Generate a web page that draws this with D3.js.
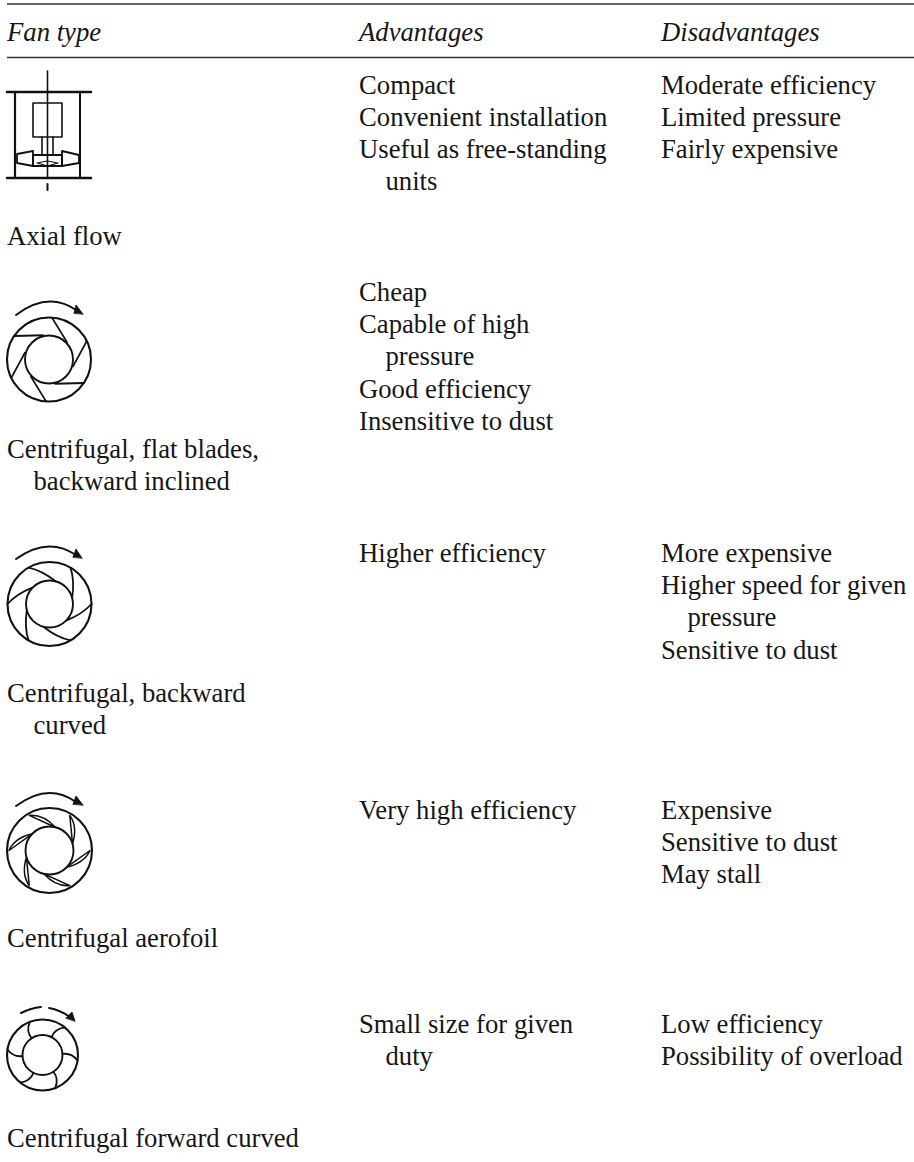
<!DOCTYPE html>
<html><head><meta charset="utf-8">
<script src="https://cdn.jsdelivr.net/npm/d3@7"></script>
<style>html,body{margin:0;padding:0;background:#fff}svg{display:block}</style>
</head><body><div id="c"></div>
<script>
const headers = ["Fan type", "Advantages", "Disadvantages"];
const fanTypes = ["Axial flow", "Centrifugal, flat blades,", "Centrifugal, backward", "Centrifugal aerofoil", "Centrifugal forward curved"];
const fanTypeCont = ["", "backward inclined", "curved", "", ""];
const advantages = [
  ["Compact", "Convenient installation", "Useful as free-standing", "  units"],
  ["Cheap", "Capable of high", "  pressure", "Good efficiency", "Insensitive to dust"],
  ["Higher efficiency"],
  ["Very high efficiency"],
  ["Small size for given", "  duty"]
];
const disadvantages = [
  ["Moderate efficiency", "Limited pressure", "Fairly expensive"],
  [],
  ["More expensive", "Higher speed for given", "  pressure", "Sensitive to dust"],
  ["Expensive", "Sensitive to dust", "May stall"],
  ["Low efficiency", "Possibility of overload"]
];

const W = 914, H = 1162;
const svg = d3.select("#c").append("svg").attr("width", W).attr("height", H);
svg.append("rect").attr("width", W).attr("height", H).attr("fill", "#fff");

const ink = "#161616";
const colX = d3.scaleOrdinal().domain(headers).range([7, 359, 661]);
const rowTop = d3.scaleOrdinal().domain(fanTypes).range([93.5, 301, 562, 819, 1032.5]);
const labelY = d3.scaleOrdinal().domain(fanTypes).range([244.5, 457.5, 701.5, 947, 1146.5]);
const lineY = d3.scaleLinear().domain([0, 1]).range([0, 32.2]);
const font = '"Liberation Serif","Times New Roman",serif';
const FS = 26.7;

function put(x, y, s, italic) {
  const indent = s.startsWith("  ");
  svg.append("text").attr("x", x + (indent ? 26.5 : 0)).attr("y", y)
    .attr("font-family", font).attr("font-size", FS)
    .attr("font-style", italic ? "italic" : "normal")
    .attr("fill", ink).text(s.trim());
}

[4, 57.5].forEach(y => svg.append("line").attr("x1", 7).attr("x2", 914)
  .attr("y1", y).attr("y2", y).attr("stroke", "#333").attr("stroke-width", 1.4));

headers.forEach(h => put(colX(h), 41, h, true));
fanTypes.forEach((f, i) => {
  put(colX(headers[0]), labelY(f), f);
  if (fanTypeCont[i]) put(colX(headers[0]), labelY(f) + lineY(1), "  " + fanTypeCont[i]);
  advantages[i].forEach((s, k) => put(colX(headers[1]), rowTop(f) + lineY(k), s));
  disadvantages[i].forEach((s, k) => put(colX(headers[2]), rowTop(f) + lineY(k), s));
});

// ---- fan icons ----
const icon = svg.append("g").attr("fill", "none").attr("stroke", "#111")
  .attr("stroke-linecap", "round").attr("stroke-linejoin", "round");

function seg(p, sw) {
  icon.append("path").attr("d", d3.line()(p)).attr("stroke-width", sw);
}
// axial
seg([[7, 92], [91, 92]], 2.6);
seg([[7, 178], [91, 178]], 2.6);
seg([[15, 92], [15, 178]], 2.2);
seg([[80, 92], [80, 178]], 2);
seg([[47.5, 71], [47.5, 178]], 1.6);
seg([[47.5, 184], [47.5, 190]], 2);
seg([[33, 103], [62, 103], [62, 137], [33, 137], [33, 103]], 1.6);
seg([[42, 137], [42, 155]], 1.6);
seg([[53, 137], [53, 155]], 1.6);
seg([[17, 154], [33, 151], [33, 166], [17, 163], [17, 154]], 1.8);
seg([[62, 151], [79, 155], [79, 163], [62, 166], [62, 151]], 1.8);
seg([[33, 155], [62, 155], [62, 166], [33, 166], [33, 155]], 2);
seg([[37, 163], [47.5, 161], [58, 163], [47.5, 166], [37, 163]], 1.2);

const rad = d => d * Math.PI / 180;
const pol = (c, r, a) => [c[0] + r * Math.cos(rad(a)), c[1] + r * Math.sin(rad(a))];

function arrow(pts) {
  const [a, m, b] = pts;
  icon.append("path").attr("stroke-width", 2)
    .attr("d", `M${a}Q${m} ${b}`);
}
function head(tip, l1, l2) {
  icon.append("path").attr("d", d3.line()([tip, l1, l2]) + "Z")
    .attr("fill", "#111").attr("stroke-width", 0.8);
}

function wheel(c, R, r, kind, start) {
  icon.append("circle").attr("cx", c[0]).attr("cy", c[1]).attr("r", R)
    .attr("stroke-width", 2.1);
  icon.append("circle").attr("cx", c[0]).attr("cy", c[1]).attr("r", r).attr("stroke-width", 1.9);
  d3.range(6).forEach(i => {
    const a = start + i * 60;
    const o = pol(c, R, a);
    if (kind === "flat") {
      seg([o, pol(c, r + 1, a + 42)], 1.8);
    } else if (kind === "backward") {
      const q = pol(c, r + 11, a + 17), e = pol(c, r, a + 45);
      icon.append("path").attr("stroke-width", 1.8).attr("d", `M${o}Q${q} ${e}`);
    } else if (kind === "aerofoil") {
      const s = pol(c, R - 2, a), e = pol(c, r, a + 44);
      const q1 = pol(c, r + 13, a + 20), q2 = pol(c, r + 8, a + 12);
      icon.append("path").attr("stroke-width", 1.5).attr("fill", "#fff")
        .attr("d", `M${s}Q${q1} ${e}Q${q2} ${s}Z`);
    } else {
      const s = pol(c, R, a), e = pol(c, r, a - 12), q = pol(c, r + 9, a - 14);
      icon.append("path").attr("stroke-width", 1.8).attr("d", `M${s}Q${q} ${e}`);
    }
  });
}

wheel([49, 359.5], 42, 24, "flat", -26);
arrow([[16, 315], [48, 291], [76, 310]]);
head([83, 314], [76, 305], [74, 313]);

wheel([49.5, 604], 42, 23.5, "backward", 0);
arrow([[16, 559], [48, 536], [76, 555]]);
head([82, 558], [76, 549], [73, 557]);

wheel([49.5, 850.5], 42.5, 24, "aerofoil", 0);
arrow([[16, 806], [48, 782], [76, 802]]);
head([83, 805], [76, 796], [73, 804]);

wheel([42.5, 1055], 35.5, 20, "forward", -51);
arrow([[21, 1013], [31, 1008], [41, 1007]]);
arrow([[49, 1008], [60, 1010], [70, 1017]]);
head([75, 1021], [72, 1012], [66, 1018]);
</script></body></html>
